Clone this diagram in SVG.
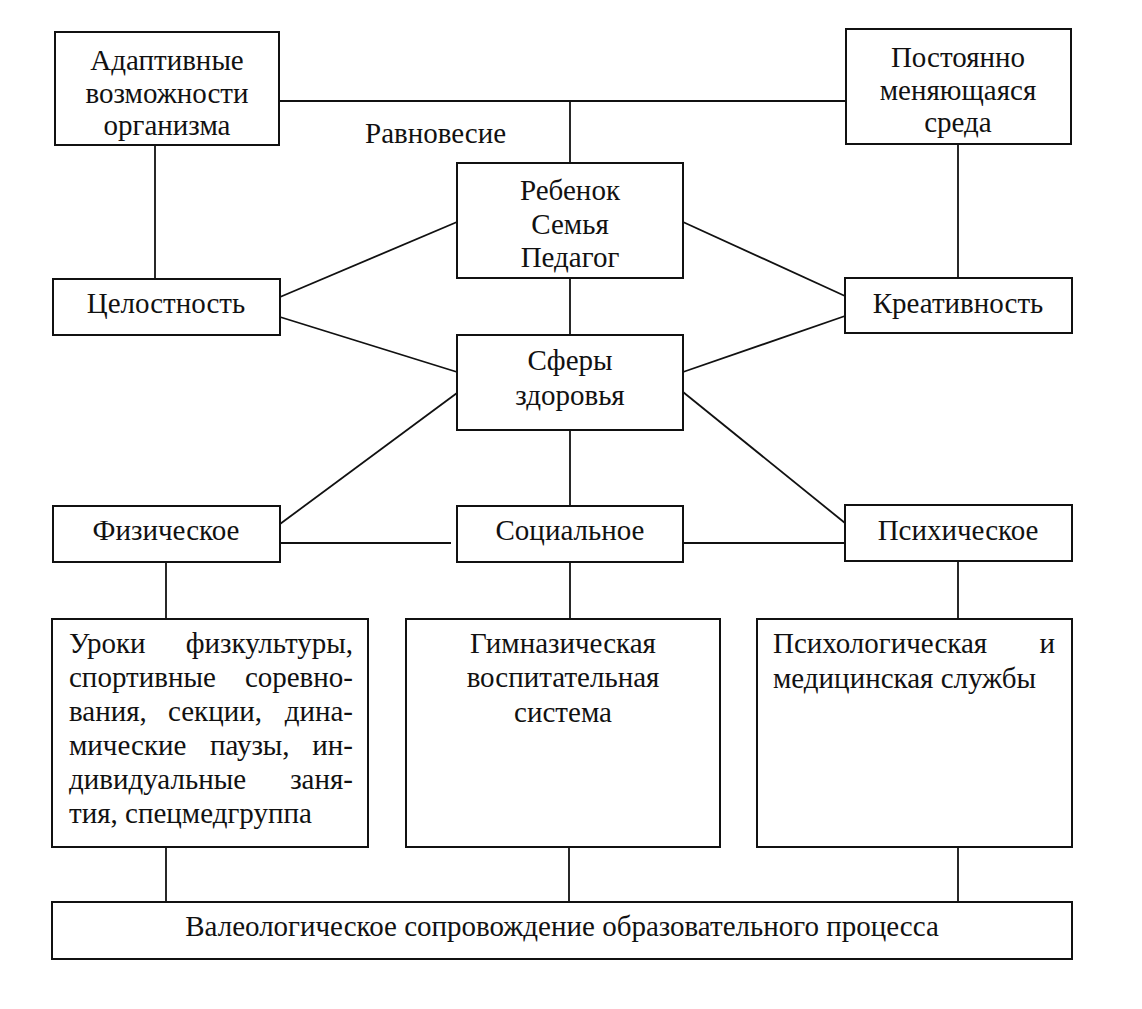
<svg xmlns="http://www.w3.org/2000/svg" width="1142" height="1009" viewBox="0 0 1142 1009">
<style>
  .box { fill: #ffffff; stroke: #111111; stroke-width: 2; }
  .ln { stroke: #111111; stroke-width: 1.8; fill: none; }
  text { font-family: "Liberation Serif", "Times New Roman", "DejaVu Serif", serif; font-size: 29px; fill: #111111; }
  .c { text-anchor: middle; }
  .e { text-anchor: end; }
</style>
<rect x="0" y="0" width="1142" height="1009" fill="#ffffff"/>
<g id="connectors">
  <line class="ln" x1="279" y1="101" x2="846" y2="101"/>
  <line class="ln" x1="570" y1="101" x2="570" y2="163"/>
  <line class="ln" x1="155" y1="145" x2="155" y2="279"/>
  <line class="ln" x1="958" y1="144" x2="958" y2="278"/>
  <line class="ln" x1="570" y1="278" x2="570" y2="335"/>
  <line class="ln" x1="570" y1="430" x2="570" y2="506"/>
  <line class="ln" x1="280" y1="297" x2="457" y2="222"/>
  <line class="ln" x1="280" y1="317" x2="457" y2="372"/>
  <line class="ln" x1="457" y1="393" x2="280" y2="524"/>
  <line class="ln" x1="683" y1="222" x2="845" y2="296"/>
  <line class="ln" x1="683" y1="372" x2="845" y2="316"/>
  <line class="ln" x1="683" y1="392" x2="845" y2="523"/>
  <line class="ln" x1="280" y1="543" x2="451" y2="543"/>
  <line class="ln" x1="683" y1="543" x2="845" y2="543"/>
  <line class="ln" x1="166" y1="562" x2="166" y2="619"/>
  <line class="ln" x1="570" y1="562" x2="570" y2="619"/>
  <line class="ln" x1="958" y1="561" x2="958" y2="619"/>
  <line class="ln" x1="166" y1="847" x2="166" y2="902"/>
  <line class="ln" x1="569" y1="847" x2="569" y2="902"/>
  <line class="ln" x1="958" y1="847" x2="958" y2="902"/>
</g>
<g id="label-ravnovesie">
  <text x="365" y="143">Равновесие</text>
</g>
<g id="node-adaptive">
  <rect class="box" x="55" y="32" width="224" height="113"/>
  <text class="c" x="167" y="70">Адаптивные</text>
  <text class="c" x="167" y="103">возможности</text>
  <text class="c" x="167" y="135">организма</text>
</g>
<g id="node-environment">
  <rect class="box" x="846" y="29" width="225" height="115"/>
  <text class="c" x="958" y="67">Постоянно</text>
  <text class="c" x="958" y="100">меняющаяся</text>
  <text class="c" x="958" y="132">среда</text>
</g>
<g id="node-child">
  <rect class="box" x="457" y="163" width="226" height="115"/>
  <text class="c" x="570" y="200">Ребенок</text>
  <text class="c" x="570" y="234">Семья</text>
  <text class="c" x="570" y="267">Педагог</text>
</g>
<g id="node-integrity">
  <rect class="box" x="53" y="279" width="227" height="56"/>
  <text class="c" x="166" y="313">Целостность</text>
</g>
<g id="node-creativity">
  <rect class="box" x="845" y="278" width="227" height="55"/>
  <text class="c" x="958" y="313">Креативность</text>
</g>
<g id="node-spheres">
  <rect class="box" x="457" y="335" width="226" height="95"/>
  <text class="c" x="570" y="370">Сферы</text>
  <text class="c" x="570" y="405">здоровья</text>
</g>
<g id="node-physical">
  <rect class="box" x="53" y="506" width="227" height="56"/>
  <text class="c" x="166" y="540">Физическое</text>
</g>
<g id="node-social">
  <rect class="box" x="457" y="506" width="226" height="56"/>
  <text class="c" x="570" y="540">Социальное</text>
</g>
<g id="node-mental">
  <rect class="box" x="845" y="505" width="227" height="56"/>
  <text class="c" x="958" y="540">Психическое</text>
</g>
<g id="node-lessons">
  <rect class="box" x="52" y="619" width="316" height="228"/>
  <text x="69" y="653">Уроки</text>
  <text class="e" x="353" y="653">физкультуры,</text>
  <text x="69" y="687">спортивные</text>
  <text class="e" x="353" y="687">соревно-</text>
  <text x="69" y="721">вания,</text>
  <text x="168" y="721">секции,</text>
  <text class="e" x="353" y="721">дина-</text>
  <text x="69" y="755">мические</text>
  <text x="210" y="755">паузы,</text>
  <text class="e" x="353" y="755">ин-</text>
  <text x="69" y="789">дивидуальные</text>
  <text class="e" x="353" y="789">заня-</text>
  <text x="69" y="823">тия, спецмедгруппа</text>
</g>
<g id="node-gymnasium">
  <rect class="box" x="406" y="619" width="314" height="228"/>
  <text class="c" x="563" y="653">Гимназическая</text>
  <text class="c" x="563" y="687">воспитательная</text>
  <text class="c" x="563" y="722">система</text>
</g>
<g id="node-services">
  <rect class="box" x="757" y="619" width="315" height="228"/>
  <text x="773" y="653">Психологическая</text>
  <text class="e" x="1055" y="653">и</text>
  <text x="773" y="688">медицинская службы</text>
</g>
<g id="node-valeology">
  <rect class="box" x="52" y="902" width="1020" height="57"/>
  <text class="c" x="562" y="936">Валеологическое сопровождение образовательного процесса</text>
</g>
</svg>
